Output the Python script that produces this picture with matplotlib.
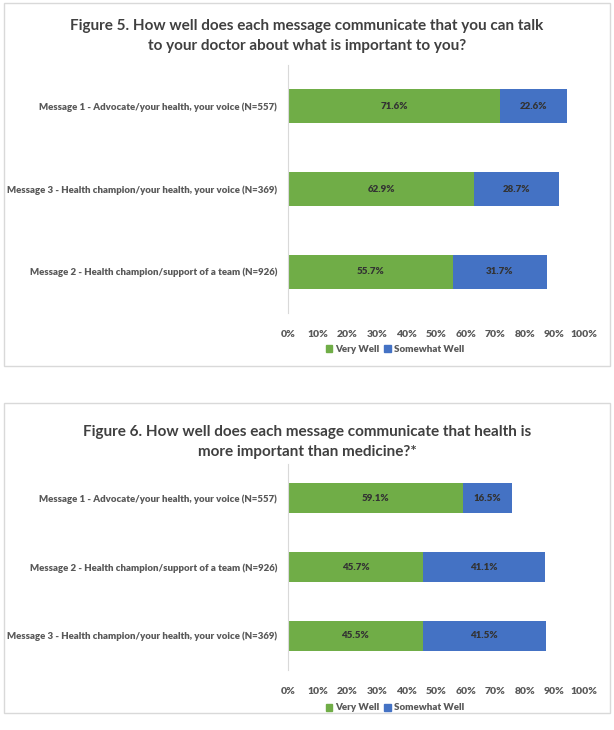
import numpy as np
import matplotlib.pyplot as plt
from matplotlib.patches import Rectangle, Patch

plt.rcParams['font.family'] = ['Lato', 'DejaVu Sans']

title5 = "Figure 5. How well does each message communicate that you can talk\nto your doctor about what is important to you?"
labels5 = ["Message 1 - Advocate/your health, your voice (N=557)",
           "Message 3 - Health champion/your health, your voice (N=369)",
           "Message 2 - Health champion/support of a team (N=926)"]
very5 = [71.6, 62.9, 55.7]
some5 = [22.6, 28.7, 31.7]

title6 = "Figure 6. How well does each message communicate that health is\nmore important than medicine?*"
labels6 = ["Message 1 - Advocate/your health, your voice (N=557)",
           "Message 2 - Health champion/support of a team (N=926)",
           "Message 3 - Health champion/your health, your voice (N=369)"]
very6 = [59.1, 45.7, 45.5]
some6 = [16.5, 41.1, 41.5]

ticks = np.arange(0, 101, 10)
green = '#70AD47'
blue = '#4472C4'
W, H = 614, 730

fig = plt.figure(figsize=(W / 100, H / 100), dpi=100)

def px(x0, y0, x1, y1):
    return [x0 / W, 1 - y1 / H, (x1 - x0) / W, (y1 - y0) / H]

# panel borders
for (y0, y1) in [(3, 366), (403, 713)]:
    fig.patches.append(Rectangle((4 / W, 1 - y1 / H), 606 / W, (y1 - y0) / H,
                                 transform=fig.transFigure, fill=False,
                                 edgecolor='#D9D9D9', lw=1))

def panel(rect, title, ty, labels, very, some, bh, ly):
    ax = fig.add_axes(px(*rect))
    y = np.arange(len(labels))
    ax.barh(y, very, height=bh, color=green)
    ax.barh(y, some, left=very, height=bh, color=blue)
    for i in range(len(labels)):
        ax.text(very[i] / 2, y[i], f"{very[i]:.1f}%", ha='center', va='center',
                fontsize=7, fontweight='heavy', color='#333333')
        ax.text(very[i] + some[i] / 2, y[i], f"{some[i]:.1f}%", ha='center',
                va='center', fontsize=7, fontweight='heavy', color='#333333')
    ax.set_xlim(0, 100)
    ax.set_ylim(len(labels) - 0.5, -0.5)
    ax.set_yticks(y)
    ax.set_yticklabels(labels, fontsize=6.9, fontweight='heavy', color='#595959')
    ax.set_xticks(ticks)
    ax.set_xticklabels([f"{t}%" for t in ticks], fontsize=7.5,
                       fontweight='heavy', color='#595959')
    ax.tick_params(length=0, pad=12)
    ax.tick_params(axis='y', pad=8)
    for s in ['top', 'right', 'bottom']:
        ax.spines[s].set_visible(False)
    ax.spines['left'].set_color('#D9D9D9')
    fig.text(307 / W, 1 - ty / H, title, ha='center', va='center',
             fontsize=11, fontweight='bold', color='#404040', linespacing=1.5)
    fig.legend(handles=[Patch(color=green, label='Very Well'),
                        Patch(color=blue, label='Somewhat Well')],
               loc='center', bbox_to_anchor=(395 / W, 1 - ly / H), ncol=2,
               frameon=False, handlelength=0.7, handleheight=0.7,
               handletextpad=0.3, columnspacing=0.5,
               prop={'size': 7, 'weight': 'heavy'}, labelcolor='#595959')
    return ax

panel((288, 65, 584, 313), title5, 36, labels5, very5, some5, 0.41, 349)
panel((288, 464, 584, 670), title6, 442, labels6, very6, some6, 0.44, 708)

fig.savefig('out.png', dpi=100)
